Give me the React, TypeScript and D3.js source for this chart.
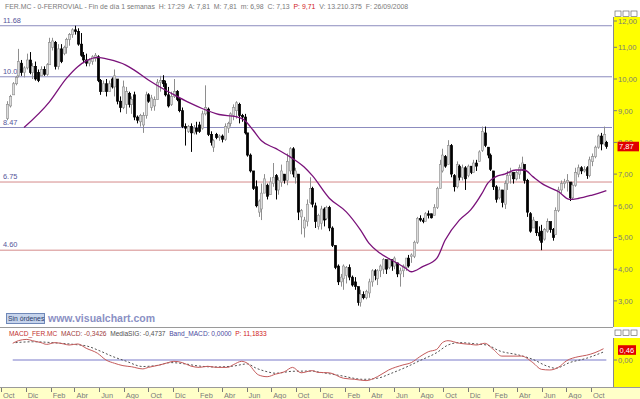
import React from "react";
import * as d3 from "d3";

// weekly candles FER.MC, first candle week of 16/10/2004
const firstWeek = new Date(2004, 9, 16);
const monthNames = ["Ene", "Feb", "Mar", "Abr", "May", "Jun", "Jul", "Ago", "Sep", "Oct", "Nov", "Dic"];

const opens = [
  8.75, 9.15, 9.5, 9.85, 10.1, 10.5, 10.2, 10.35, 10.6, 10.2, 10.4, 10.2, 10.1, 10.3, 10.15, 10.45, 11.0, 11.15, 10.4, 10.95,
  10.8, 11.0, 11.25, 11.4, 11.55, 11.5, 11.1, 10.75, 10.6, 10.5, 10.55, 10.65, 10.7, 9.95, 9.6, 9.85, 9.6, 10.0, 9.75, 10.0,
  9.3, 9.1, 9.2, 9.55, 9.2, 9.5, 8.8, 8.65, 8.55, 8.85, 9.5, 9.1, 9.15, 9.35, 9.9, 9.95, 9.85, 9.5, 9.2, 9.45,
  9.6, 9.35, 9.0, 8.5, 8.35, 8.5, 8.3, 8.45, 8.55, 8.45, 8.9, 9.05, 8.25, 7.85, 8.25, 8.15, 8.2, 8.1, 8.45, 8.6,
  8.85, 9.0, 9.2, 8.85, 8.8, 8.3, 7.6, 7.1, 6.6, 5.8, 5.9, 6.4, 6.65, 6.35, 6.7, 6.95, 6.5, 6.75, 7.0, 6.8,
  7.1, 7.8, 6.9, 7.0, 5.65, 5.3, 5.5, 6.1, 6.55, 6.0, 5.35, 5.45, 5.9, 5.6, 5.95, 5.3, 4.75, 4.1, 3.6, 3.7,
  3.8, 4.05, 3.75, 3.6, 3.45, 2.95, 3.2, 3.1, 3.25, 3.6, 3.95, 3.7, 3.95, 4.0, 4.3, 4.05, 4.3, 4.1, 4.2, 3.85,
  3.95, 4.05, 4.35, 4.4, 4.4, 4.85, 5.6, 5.55, 5.5, 5.75, 5.75, 5.7, 5.95, 6.55, 7.1, 7.55, 7.3, 7.9, 6.95, 6.6,
  7.25, 6.9, 7.2, 6.95, 7.25, 7.05, 7.35, 7.4, 7.75, 8.3, 7.85, 7.6, 7.1, 6.6, 6.25, 6.5, 6.05, 6.7, 6.95, 7.05,
  6.85, 7.0, 7.15, 7.3, 6.8, 5.75, 5.3, 5.5, 5.15, 5.2, 4.95, 5.2, 5.5, 5.25, 5.1, 5.85, 6.5, 6.7, 6.75, 6.75,
  6.25, 6.65, 7.0, 7.2, 7.1, 7.2, 6.95, 7.4, 7.55, 7.85, 8.2, 7.95, 8.0,
];
const highs = [
  9.3, 9.5, 9.9, 10.1, 10.95, 10.6, 10.4, 10.8, 10.85, 10.5, 10.55, 10.3, 10.4, 10.4, 10.5, 11.3, 11.3, 11.2, 11.1, 11.1,
  11.05, 11.3, 11.45, 11.6, 11.68, 11.6, 11.45, 10.85, 10.8, 10.65, 10.75, 10.82, 10.75, 10.0, 9.95, 10.0, 9.95, 10.05, 10.3, 10.0,
  9.45, 9.95, 9.75, 9.6, 9.45, 9.6, 8.85, 8.9, 8.95, 9.6, 9.55, 9.5, 9.45, 10.0, 10.1, 10.12, 9.95, 9.75, 9.6, 10.0,
  9.65, 9.4, 9.1, 8.6, 8.55, 8.6, 8.55, 8.65, 8.65, 9.0, 9.8, 9.1, 8.35, 8.1, 8.3, 8.25, 8.25, 8.6, 8.65, 8.95,
  9.2, 9.3, 9.25, 8.9, 8.9, 8.3, 7.65, 7.1, 6.8, 6.2, 6.7, 7.0, 6.7, 6.9, 7.35, 7.0, 6.9, 7.3, 7.0, 7.65,
  7.85, 7.85, 7.2, 7.0, 5.9, 5.65, 6.2, 6.9, 6.6, 6.1, 5.75, 6.0, 5.95, 6.0, 6.0, 5.35, 4.75, 4.15, 3.85, 4.15,
  4.1, 4.15, 3.8, 3.75, 3.45, 3.35, 3.3, 3.35, 3.7, 4.0, 4.0, 4.0, 4.15, 4.35, 4.3, 4.35, 4.3, 4.4, 4.2, 4.05,
  4.15, 4.15, 4.45, 4.5, 4.9, 5.65, 5.7, 5.62, 5.8, 5.85, 5.75, 6.05, 6.6, 7.45, 7.8, 7.6, 8.07, 7.95, 7.0, 7.4,
  7.3, 7.3, 7.25, 7.3, 7.25, 7.45, 7.45, 7.75, 8.5, 8.5, 7.85, 7.65, 7.1, 6.65, 6.6, 6.5, 6.8, 7.1, 7.2, 7.05,
  7.1, 7.3, 7.55, 7.3, 6.85, 5.8, 5.65, 5.5, 5.35, 5.4, 5.3, 5.6, 5.5, 5.3, 5.95, 6.6, 6.8, 6.85, 7.0, 6.75,
  6.75, 7.2, 7.3, 7.25, 7.25, 7.25, 7.55, 7.65, 7.9, 8.25, 8.3, 8.5, 8.05,
];
const lows = [
  8.7, 9.1, 9.5, 9.8, 10.05, 10.1, 10.05, 10.3, 10.15, 10.0, 9.95, 9.9, 10.1, 10.1, 10.1, 10.45, 10.9, 10.3, 10.3, 10.5,
  10.75, 10.8, 11.05, 11.3, 11.4, 11.05, 10.7, 10.5, 10.4, 10.4, 10.45, 10.55, 9.9, 9.5, 9.6, 9.45, 9.6, 9.7, 9.45, 9.2,
  8.95, 9.05, 8.9, 9.1, 8.9, 8.7, 8.6, 8.5, 8.3, 8.75, 9.25, 9.0, 9.0, 9.35, 9.6, 9.75, 9.45, 9.1, 9.15, 9.4,
  9.3, 8.95, 8.45, 7.9, 8.3, 7.7, 8.25, 8.25, 8.3, 8.4, 8.85, 8.2, 7.9, 7.7, 8.1, 8.05, 8.0, 8.05, 8.3, 8.5,
  8.7, 8.75, 8.6, 8.65, 8.25, 7.55, 7.05, 6.5, 5.95, 5.65, 5.55, 6.4, 6.2, 6.35, 6.6, 6.2, 6.35, 6.6, 6.7, 6.65,
  7.0, 6.9, 6.7, 5.55, 5.1, 5.0, 5.35, 6.05, 5.95, 5.3, 5.25, 5.25, 5.35, 5.55, 5.2, 4.7, 4.0, 3.5, 3.45, 3.35,
  3.55, 3.65, 3.45, 3.35, 2.85, 2.82, 3.05, 3.05, 3.1, 3.45, 3.65, 3.5, 3.75, 3.85, 3.85, 4.0, 3.95, 4.0, 3.75, 3.45,
  3.75, 3.95, 4.05, 4.2, 4.35, 4.8, 5.5, 5.45, 5.5, 5.6, 5.6, 5.7, 5.9, 6.55, 7.05, 7.2, 7.3, 6.9, 6.45, 6.55,
  6.8, 6.8, 6.5, 6.9, 7.0, 7.05, 7.1, 7.4, 7.7, 7.85, 7.5, 7.1, 6.5, 6.1, 6.2, 5.95, 5.9, 6.5, 6.7, 6.7,
  6.8, 6.85, 7.1, 6.7, 5.65, 5.15, 5.3, 5.05, 4.9, 4.6, 4.9, 5.15, 5.15, 4.9, 5.1, 5.8, 6.4, 6.55, 6.45, 6.15,
  6.2, 6.6, 6.9, 7.0, 7.05, 6.85, 6.9, 7.25, 7.5, 7.8, 7.75, 7.9, 7.8,
];
const closes = [
  9.2, 9.45, 9.85, 10.05, 10.55, 10.2, 10.35, 10.6, 10.2, 10.4, 10.0, 9.95, 10.3, 10.15, 10.45, 11.15, 11.2, 10.4, 10.95, 10.55,
  11.0, 11.25, 11.4, 11.55, 11.5, 11.1, 10.75, 10.6, 10.5, 10.6, 10.7, 10.75, 9.95, 9.6, 9.85, 9.6, 9.85, 9.75, 10.1, 9.3,
  9.1, 9.75, 9.6, 9.2, 9.35, 8.8, 8.7, 8.85, 8.85, 9.5, 9.3, 9.4, 9.35, 9.9, 9.95, 9.85, 9.5, 9.15, 9.45, 9.6,
  9.35, 9.0, 8.5, 8.45, 8.5, 8.3, 8.45, 8.35, 8.35, 8.9, 9.1, 8.25, 8.0, 8.05, 8.15, 8.2, 8.1, 8.5, 8.6, 8.9,
  9.1, 9.25, 8.85, 8.8, 8.3, 7.6, 7.1, 6.55, 6.0, 6.15, 6.4, 6.85, 6.3, 6.75, 6.9, 6.5, 6.8, 7.1, 6.8, 7.4,
  7.8, 7.0, 7.1, 5.8, 5.85, 5.55, 6.05, 6.55, 6.05, 5.5, 5.7, 5.9, 5.55, 5.95, 5.3, 4.75, 4.05, 3.6, 3.75, 4.1,
  4.05, 3.75, 3.5, 3.45, 2.95, 3.2, 3.1, 3.3, 3.6, 3.95, 3.8, 3.95, 4.1, 4.3, 4.0, 4.3, 4.1, 4.35, 3.85, 3.95,
  4.1, 4.35, 4.1, 4.45, 4.85, 5.6, 5.55, 5.5, 5.75, 5.7, 5.62, 5.95, 6.55, 7.3, 7.6, 7.25, 7.9, 7.0, 6.6, 7.3,
  6.9, 7.2, 6.85, 7.25, 7.05, 7.35, 7.25, 7.7, 8.35, 7.9, 7.6, 7.15, 6.6, 6.2, 6.5, 6.1, 6.7, 6.95, 7.05, 6.85,
  7.05, 7.2, 7.35, 6.8, 5.8, 5.2, 5.55, 5.15, 5.05, 4.85, 5.25, 5.5, 5.25, 5.0, 5.85, 6.5, 6.7, 6.75, 6.8, 6.25,
  6.65, 7.05, 7.2, 7.1, 7.15, 6.95, 7.45, 7.55, 7.85, 8.2, 7.95, 8.25, 7.87,
];

// 30-week moving average
const maWeeks = [6, 15, 21, 25, 28, 32, 36, 42, 45, 50, 55, 60, 65, 69, 75, 81, 84, 87, 90, 95, 100, 105, 108, 114, 120, 125, 128, 132, 136, 141, 143, 147, 152, 155, 160, 164, 168, 170, 173, 176, 180, 183, 186, 190, 195, 199, 202, 207, 212];
const maValues = [8.47, 9.28, 10.02, 10.39, 10.57, 10.68, 10.62, 10.44, 10.28, 9.97, 9.7, 9.46, 9.23, 9.07, 8.88, 8.81, 8.7, 8.39, 8.05, 7.81, 7.55, 7.23, 6.95, 6.24, 5.81, 5.24, 4.82, 4.5, 4.29, 4.03, 3.92, 4.08, 4.34, 4.92, 5.55, 5.87, 6.39, 6.71, 6.92, 7.0, 7.13, 7.13, 6.92, 6.66, 6.45, 6.2, 6.23, 6.34, 6.48];

// MACD panel
const macdWeeks = [2, 4, 7, 9, 12, 14, 17, 20, 22, 25, 28, 32, 35, 38, 41, 44, 48, 50, 54, 57, 59, 62, 65, 68, 71, 74, 78, 80, 83, 85, 89, 92, 95, 98, 101, 104, 108, 110, 114, 119, 123, 127, 131, 135, 140, 143, 146, 149, 152, 154, 156, 160, 164, 166, 169, 172, 175, 179, 182, 186, 189, 192, 195, 198, 202, 205, 208, 211];
const macdValues = [0.77, 0.89, 0.95, 0.89, 0.8, 0.72, 0.8, 0.74, 0.69, 0.74, 0.54, 0.31, 0.0, -0.15, -0.26, -0.31, -0.41, -0.34, -0.23, -0.12, -0.06, -0.12, -0.28, -0.34, -0.29, -0.34, -0.34, -0.22, -0.06, -0.15, -0.69, -0.77, -0.65, -0.55, -0.34, -0.59, -0.49, -0.57, -0.59, -0.84, -0.89, -0.95, -0.77, -0.46, -0.23, -0.12, 0.15, 0.38, 0.49, 0.8, 0.89, 0.77, 0.72, 0.69, 0.77, 0.49, 0.18, 0.18, 0.18, -0.12, -0.43, -0.46, -0.34, -0.03, 0.15, 0.22, 0.34, 0.52];
const sigWeeks = [3, 9, 19, 25, 28, 33, 37, 42, 48, 53, 58, 63, 68, 74, 80, 85, 88, 92, 95, 101, 108, 110, 118, 126, 131, 136, 141, 146, 152, 156, 160, 166, 170, 174, 181, 186, 191, 194, 199, 205, 211];
const sigValues = [0.8, 0.84, 0.77, 0.7, 0.65, 0.41, 0.18, -0.05, -0.3, -0.25, -0.12, -0.18, -0.28, -0.32, -0.28, -0.18, -0.37, -0.54, -0.61, -0.52, -0.51, -0.55, -0.72, -0.89, -0.84, -0.61, -0.34, -0.03, 0.34, 0.69, 0.8, 0.74, 0.68, 0.43, 0.23, 0.03, -0.28, -0.38, -0.12, 0.08, 0.37];

// horizontal support / resistance levels
const levels = [11.68, 10.07, 8.47, 6.75, 4.6];
const levelLabels = ["11.68", "10.07", "8.47", "6.75", "4.60"];
const levelKinds = ["res", "res", "res", "sup", "sup"];
const priceTicks = [3, 4, 5, 6, 7, 8, 9, 10, 11, 12];
const lastPrice = 7.87;
const lastMacd = 0.46;

const FONT = "'Liberation Sans', Arial, sans-serif";
const GRAY = "#7a7a7a";

const fmt = (v: number) => v.toFixed(2).replace(".", ",");

export default function App() {
  const weekDate = (i: number) => d3.timeDay.offset(firstWeek, i * 7);
  const x = d3.scaleTime().domain([new Date(2004, 9, 1), new Date(2008, 9, 1)]).range([1, 591]);
  const y = d3.scaleLinear().domain([3, 11]).range([300.9, 47.3]);
  const ym = d3.scaleLinear().domain([-1, 1]).range([381.7, 338.3]);

  const maLine = d3.line<number>()
    .x((_, k) => x(weekDate(maWeeks[k])))
    .y((v) => y(v))
    .curve(d3.curveMonotoneX);
  const macdLine = d3.line<number>()
    .x((_, k) => x(weekDate(macdWeeks[k])))
    .y((v) => ym(v))
    .curve(d3.curveMonotoneX);
  const sigLine = d3.line<number>()
    .x((_, k) => x(weekDate(sigWeeks[k])))
    .y((v) => ym(v))
    .curve(d3.curveMonotoneX);

  // every second month starting with October
  const monthTicks = d3.timeMonth.range(new Date(2004, 9, 1), new Date(2008, 9, 2), 2);

  return (
    <svg width={640} height={399} style={{ position: "absolute", left: 0, top: 0, background: "#fff" }} fontFamily={FONT}>
      <defs>
        <clipPath id="mainClip"><rect x={0} y={17} width={612} height={310} /></clipPath>
        <clipPath id="macdClip"><rect x={0} y={337} width={612} height={50} /></clipPath>
      </defs>
      <rect x={0} y={0} width={640} height={399} fill="#fff" />

      {/* header */}
      <text x={5} y={9} fontSize={6.9} fill={GRAY} style={{ whiteSpace: "pre" }}>
        FER.MC - 0-FERROVIAL - Fin de día 1 semanas  H: 17:29  A: 7,81  M: 7,81  m: 6,98  C: 7,13  <tspan fill="#d02020">P: 9,71</tspan>  V: 13.210.375  F: 26/09/2008
      </text>

      {/* right price axis */}
      <rect x={613} y={17} width={27} height={310} fill="#ffff00" />
      <line x1={613.5} x2={613.5} y1={17} y2={327} stroke="#8a8a8a" />
      {[0, 1, 2].map((k) => (
        <rect key={k} x={615 + k * 8} y={11} width={6} height={5.5} fill="#fff" stroke="#555" strokeWidth={0.6} />
      ))}
      {priceTicks.map((t) => {
        const ty = Math.max(y(t), 21);
        return (
          <g key={t}>
            <line x1={614} x2={617} y1={ty} y2={ty} stroke={GRAY} />
            <text x={618} y={ty + 2.8} fontSize={7.6} fill={GRAY}>{fmt(t)}</text>
          </g>
        );
      })}
      <rect x={617.5} y={y(lastPrice) - 4.8} width={21.5} height={9.6} fill="#e00000" />
      <text x={619} y={y(lastPrice) + 2.8} fontSize={7.6} fill="#fff">{fmt(lastPrice)}</text>

      {/* level lines */}
      {levels.map((v, k) => (
        <g key={v}>
          <line x1={0} x2={612} y1={y(v)} y2={y(v)} stroke={levelKinds[k] === "res" ? "#8c8cbe" : "#d48a8a"} strokeWidth={1} />
          <text x={3} y={y(v) - 3} fontSize={7.4} fill="#55559a">{levelLabels[k]}</text>
        </g>
      ))}

      {/* candles */}
      <g clipPath="url(#mainClip)">
        {closes.map((c, i) => {
          const cx = Math.round(x(weekDate(i))) + 0.5;
          const up = c >= opens[i];
          const col = up ? "#8e8e8e" : "#000";
          const top = y(Math.max(opens[i], c));
          const bot = y(Math.min(opens[i], c));
          return (
            <g key={i}>
              <line x1={cx} x2={cx} y1={y(highs[i])} y2={y(lows[i])} stroke={col} strokeWidth={1} />
              <rect x={cx - 1.2} y={top} width={2.4} height={Math.max(bot - top, 1)} fill={up ? "#dcdcdc" : "#000"} stroke={col} strokeWidth={0.6} />
            </g>
          );
        })}
        <path d={maLine(maValues) ?? ""} fill="none" stroke="#7a127a" strokeWidth={1.3} />
      </g>

      {/* watermark */}
      <rect x={6.5} y={313.5} width={38} height={10} fill="#c6d4ec" stroke="#6f88b8" strokeWidth={1} />
      <text x={8} y={321} fontSize={6.8} fill="#2a3a6a">Sin órdenes</text>
      <text x={48} y={322} fontSize={10.5} fontWeight="bold" fill="#8a90c4">www.visualchart.com</text>

      {/* panel separator */}
      <line x1={0} x2={613} y1={327.5} y2={327.5} stroke="#9a9a9a" strokeWidth={1} />

      {/* MACD panel */}
      <text x={9} y={335.5} fontSize={6.6} style={{ whiteSpace: "pre" }}>
        <tspan fill="#c03030">MACD_FER.MC  </tspan>
        <tspan fill="#a04040">MACD: -0,3426  </tspan>
        <tspan fill="#505050">MediaSIG: -0,4737  </tspan>
        <tspan fill="#4a4aa0">Band_MACD: 0,0000  </tspan>
        <tspan fill="#d02020">P: 11,1833</tspan>
      </text>
      <rect x={613} y={338} width={27} height={49} fill="#ffff00" />
      <line x1={613.5} x2={613.5} y1={338} y2={387} stroke="#8a8a8a" />
      {[0, 1, 2].map((k) => (
        <rect key={k} x={615 + k * 8} y={330} width={6} height={5.5} fill="#fff" stroke="#555" strokeWidth={0.6} />
      ))}
      <line x1={614} x2={617} y1={ym(0)} y2={ym(0)} stroke={GRAY} />
      <text x={618} y={ym(0) + 2.8} fontSize={7.6} fill={GRAY}>{fmt(0)}</text>
      <rect x={618} y={ym(lastMacd) - 4.8} width={18} height={9.6} fill="#e00000" />
      <text x={619.5} y={ym(lastMacd) + 2.8} fontSize={7.6} fill="#fff">{fmt(lastMacd)}</text>
      <g clipPath="url(#macdClip)">
        <line x1={x(weekDate(2))} x2={x(weekDate(212))} y1={ym(0)} y2={ym(0)} stroke="#bcbce4" strokeWidth={2} />
        <path d={sigLine(sigValues) ?? ""} fill="none" stroke="#404040" strokeWidth={0.9} strokeDasharray="2,2" />
        <path d={macdLine(macdValues) ?? ""} fill="none" stroke="#c45a5a" strokeWidth={1} />
      </g>

      {/* time axis */}
      <rect x={0} y={387} width={640} height={12} fill="#ffffc8" />
      <line x1={0} x2={640} y1={387.5} y2={387.5} stroke="#9a9a9a" />
      {monthTicks.map((d) => (
        <g key={d.getTime()}>
          <line x1={Math.round(x(d)) + 0.5} x2={Math.round(x(d)) + 0.5} y1={388} y2={392} stroke={GRAY} />
          <text x={x(d) + 2} y={397.5} fontSize={7.4} fill={GRAY}>{monthNames[d.getMonth()]}</text>
        </g>
      ))}
    </svg>
  );
}
